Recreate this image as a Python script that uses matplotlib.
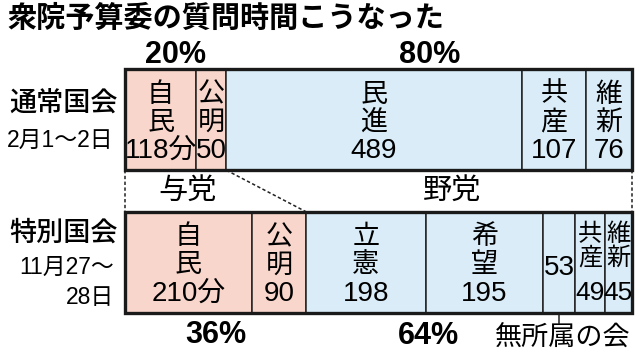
import numpy as np
import matplotlib
matplotlib.use("Agg")
import matplotlib.pyplot as plt
from matplotlib import font_manager as fm
from matplotlib.patches import Rectangle

# データ(分)
rows = ["通常国会", "特別国会"]
dates = ["2月1〜2日", "11月27〜\n28日"]
names_top = ["自民", "公明", "民進", "共産", "維新"]
mins_top = [118, 50, 489, 107, 76]
names_bot = ["自民", "公明", "立憲", "希望", "", "共産", "維新"]
mins_bot = [210, 90, 198, 195, 53, 49, 45]
n_ruling = 2  # 与党 = 先頭2党

PINK = "#f9d6cc"
BLUE = "#d9ecf8"
JP = "Noto Sans CJK JP"


def has_font(name):
    try:
        fm.findfont(name, fallback_to_default=False)
        return True
    except Exception:
        return False


NUM = "Liberation Sans Narrow" if has_font("Liberation Sans Narrow") else "Liberation Sans"
plt.rcParams["font.family"] = [JP, "DejaVu Sans"]

fig = plt.figure(figsize=(6.4, 3.52), dpi=100)
W, H = 640, 352


def px(x, y):
    return x / W, 1 - y / H


# 棒の領域 (px): x 125-632, y 69-313
ax = fig.add_axes([125 / W, 1 - 313 / H, (632 - 125) / W, (313 - 69) / H])
bh = 0.709
unit = 142.5  # px per y unit
ax.set_xlim(0, 840)
ax.set_ylim(-bh / 2, 1 + bh / 2)
ax.axis("off")


def draw_row(y, names, mins, small_from=None):
    mins = np.array(mins)
    left = np.concatenate([[0], np.cumsum(mins)[:-1]])
    colors = [PINK if i < n_ruling else BLUE for i in range(len(mins))]
    ax.barh(y, mins, left=left, height=bh, color=colors, edgecolor="#222222", linewidth=1.1)
    ax.add_patch(Rectangle((0, y - bh / 2), mins.sum(), bh, fill=False,
                           edgecolor="#1a1a1a", linewidth=2.4, clip_on=False, zorder=5))
    top = y + bh / 2
    for i, (nm, m, l) in enumerate(zip(names, mins, left)):
        cx = l + m / 2
        val = f"{m}分" if i == 0 else str(m)
        narrow = small_from is not None and i >= small_from
        fs = 17.5 if narrow else 19.5
        nfs = 19 if narrow else 20
        offs = [22, 46, 81] if narrow else [25, 53, 82]
        if nm == "":
            ax.text(cx, top - 56 / unit, val, ha="center", va="center",
                    fontsize=nfs, family=[NUM, JP])
            continue
        ax.text(cx, top - offs[0] / unit, nm[0], ha="center", va="center", fontsize=fs)
        ax.text(cx, top - offs[1] / unit, nm[1], ha="center", va="center", fontsize=fs)
        ax.text(cx, top - offs[2] / unit, val, ha="center", va="center",
                fontsize=nfs, family=[NUM, JP])
    return left, mins


lt, mt = draw_row(1, names_top, mins_top)
lb, mb = draw_row(0, names_bot, mins_bot, small_from=5)

tot_t, tot_b = sum(mins_top), sum(mins_bot)
rul_t, rul_b = sum(mins_top[:n_ruling]), sum(mins_bot[:n_ruling])

# 点線
y1, y0 = 1 - bh / 2, bh / 2
dash = dict(color="#222222", linewidth=1.1, linestyle=(0, (2.2, 1.6)), clip_on=False)
ax.plot([0, 0], [y1, y0], **dash)
ax.plot([rul_t, rul_b], [y1, y0], **dash)
ax.plot([tot_t, tot_b], [y1, y0], **dash)

# 割合
pct = dict(ha="center", va="center", fontsize=22, fontweight="bold", family=[NUM, JP])
ytop_lab = 1 + bh / 2 + 14 / unit
ybot_lab = -bh / 2 - 22 / unit
ax.text(rul_t / 2, ytop_lab, f"{round(rul_t / tot_t * 100)}%", **pct)
ax.text((rul_t + tot_t) / 2, ytop_lab, f"{round((tot_t - rul_t) / tot_t * 100)}%", **pct)
ax.text(rul_b / 2, ybot_lab, f"{round(rul_b / tot_b * 100)}%", **pct)
ax.text((rul_b + tot_b) / 2 - 68, ybot_lab - 1 / unit, f"{round((tot_b - rul_b) / tot_b * 100)}%", **pct)

# 与党・野党
ymid = 0.5
ax.text((rul_t + rul_b) / 4 - 13, ymid, "与党", ha="center", va="center", fontsize=21)
ax.text((rul_t + rul_b) / 4 + tot_t / 2 + 4, ymid, "野党", ha="center", va="center", fontsize=21)

# 無所属の会
i_ind = names_bot.index("")
cx_ind = lb[i_ind] + mb[i_ind] / 2
ax.plot([cx_ind, cx_ind], [-bh / 2, -bh / 2 - 10 / unit], color="#222222", lw=1.1, clip_on=False)
ax.text(cx_ind + 5, -bh / 2 - 25 / unit, "無所属の会", ha="center", va="center", fontsize=19.5)

# 左側ラベル
fig.text(*px(7, 18), "衆院予算委の質問時間こうなった", ha="left", va="center",
         fontsize=21, fontweight="bold")
fig.text(*px(118, 103), rows[0], ha="right", va="center", fontsize=19.5, fontweight="medium")
fig.text(*px(114, 140), dates[0], ha="right", va="center", fontsize=16.5, family=[NUM, JP])
fig.text(*px(118, 233), rows[1], ha="right", va="center", fontsize=19.5, fontweight="medium")
d1, d2 = dates[1].split("\n")
fig.text(*px(114, 267), d1, ha="right", va="center", fontsize=16.5, family=[NUM, JP])
fig.text(*px(114, 298), d2, ha="right", va="center", fontsize=16.5, family=[NUM, JP])

fig.savefig("out.png", dpi=100)
